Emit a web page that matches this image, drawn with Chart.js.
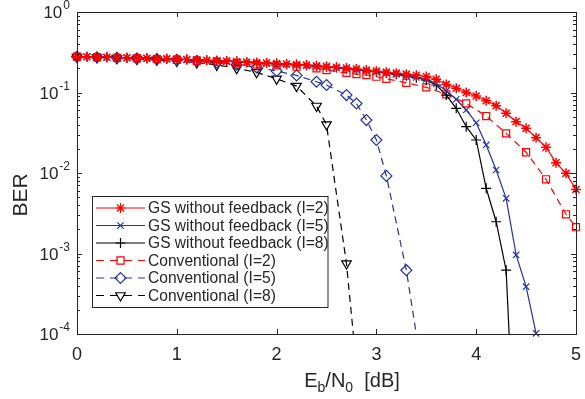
<!DOCTYPE html>
<html lang="en">
<head>
<meta charset="UTF-8">
<title>BER vs Eb/N0</title>
<script src="https://cdn.jsdelivr.net/npm/chart.js"></script>
<style>
  html, body { margin: 0; padding: 0; background: #fff; }
  #wrap { position: relative; width: 585px; height: 399px; }
</style>
</head>
<body>
<div id="wrap"><canvas id="ber-chart" width="585" height="399"></canvas></div>
<script>
// x values (Eb/N0 in dB)
const snrGS2 = [0,0.1,0.2,0.3,0.4,0.5,0.6,0.7,0.8,0.9,1.0,1.1,1.2,1.3,1.4,1.5,1.6,1.7,1.8,1.9,2.0,2.1,2.2,2.3,2.4,2.5,2.6,2.7,2.8,2.9,3.0,3.1,3.2,3.3,3.4,3.5,3.6,3.7,3.8,3.9,4.0,4.1,4.2,4.3,4.4,4.5,4.6,4.7,4.8,4.9,5.0];
const snrGS5 = [0,0.1,0.2,0.3,0.4,0.5,0.6,0.7,0.8,0.9,1.0,1.1,1.2,1.3,1.4,1.5,1.6,1.7,1.8,1.9,2.0,2.1,2.2,2.3,2.4,2.5,2.6,2.7,2.8,2.9,3.0,3.1,3.2,3.3,3.4,3.5,3.6,3.7,3.8,3.9,4.0,4.1,4.2,4.3,4.4,4.5,4.6];
const snrGS8 = [0,0.1,0.2,0.3,0.4,0.5,0.6,0.7,0.8,0.9,1.0,1.1,1.2,1.3,1.4,1.5,1.6,1.7,1.8,1.9,2.0,2.1,2.2,2.3,2.4,2.5,2.6,2.7,2.8,2.9,3.0,3.1,3.2,3.3,3.4,3.5,3.6,3.7,3.8,3.9,4.0,4.1,4.2,4.3,4.4];
const snrConv2 = [0,0.2,0.4,0.6,0.8,1.0,1.2,1.4,1.6,1.8,2.0,2.2,2.4,2.5,2.7,2.8,2.9,3.0,3.1,3.3,3.5,3.7,3.9,4.1,4.3,4.5,4.7,4.9,5.0];
const snrConv5 = [0,0.2,0.4,0.6,0.8,1.0,1.2,1.4,1.6,1.8,2.0,2.2,2.4,2.5,2.7,2.8,2.9,3.0,3.1,3.3,3.5];
const snrConv8 = [0,0.2,0.4,0.6,0.8,1.0,1.2,1.4,1.6,1.8,2.0,2.2,2.4,2.5,2.7,2.8];

// BER values
const berGS2 = [0.280,0.278,0.276,0.274,0.272,0.270,0.268,0.266,0.264,0.262,
  0.260,0.257,0.254,0.251,0.248,0.245,0.242,0.238,0.235,0.232,
  0.229,0.226,0.222,0.219,0.215,0.211,0.206,0.201,0.196,0.190,
  0.184,0.179,0.174,0.169,0.164,0.158,0.146,0.126,0.113,0.100,
  0.0905,0.079,0.0686,0.0552,0.0434,0.0359,0.0275,0.0209,0.0134,0.0099,0.00626];
const berGS5 = [0.279,0.277,0.275,0.273,0.271,0.269,0.267,0.265,0.263,0.261,
  0.258,0.255,0.252,0.249,0.246,0.243,0.240,0.236,0.233,0.230,
  0.227,0.223,0.219,0.215,0.211,0.207,0.202,0.197,0.191,0.185,
  0.180,0.174,0.168,0.161,0.154,0.146,0.128,0.105,0.0824,0.0606,
  0.0421,0.0223,0.0109,0.00485,0.00096,0.000387,0.000102];
const berGS8 = [0.281,0.279,0.277,0.275,0.273,0.271,0.269,0.267,0.265,0.263,
  0.260,0.257,0.254,0.251,0.248,0.245,0.242,0.238,0.235,0.232,
  0.229,0.225,0.221,0.217,0.213,0.209,0.204,0.199,0.193,0.187,
  0.181,0.175,0.168,0.161,0.153,0.142,0.124,0.093,0.0636,0.0376,
  0.0257,0.00646,0.00248,0.00062,0.0000014];
const berConv2 = [0.278,0.274,0.270,0.265,0.260,0.255,0.248,0.240,0.232,0.222,
  0.218,0.209,0.200,0.190,0.175,0.169,0.165,0.157,0.148,0.132,
  0.116,0.095,0.0734,0.051,0.0311,0.0181,0.00835,0.00307,0.00212];
const berConv5 = [0.278,0.274,0.270,0.265,0.260,0.254,0.246,0.236,0.222,0.205,
  0.185,0.163,0.136,0.124,0.093,0.073,0.0455,0.0257,0.0092,0.00062,0.000016];
const berConv8 = [0.276,0.272,0.266,0.260,0.254,0.246,0.236,0.220,0.200,0.178,
  0.148,0.120,0.068,0.040,0.00075,0.00004];

const seriesLabels = ['GS without feedback (I=2)', 'GS without feedback (I=5)', 'GS without feedback (I=8)',
  'Conventional (I=2)', 'Conventional (I=5)', 'Conventional (I=8)'];
const xTicks = [0, 1, 2, 3, 4, 5];
const yTickExps = [0, -1, -2, -3, -4];

const RED = '#ff0000', BLUE = '#25349b', BLACK = '#000000';
const AXIS = '#262626';
const FONT = '"Liberation Sans", Arial, Helvetica, sans-serif';

function pts(xs, ys) {
  return xs.map((x, i) => ({ x: x, y: ys[i] }));
}

function makeSet(label, xs, ys, color, style, radius, dashed, rot, clipBottom, markerWidth) {
  return {
    label: label,
    data: pts(xs, ys),
    borderColor: color,
    backgroundColor: 'rgba(0,0,0,0)',
    borderWidth: 1.2,
    borderDash: dashed ? [7, 5] : [],
    pointStyle: style,
    pointRadius: radius,
    pointHoverRadius: radius,
    pointBorderColor: color,
    pointBackgroundColor: 'rgba(0,0,0,0)',
    pointBorderWidth: markerWidth || 1.2,
    pointRotation: rot || 0,
    tension: 0,
    fill: false,
    clip: { left: 12, top: 12, right: 12, bottom: clipBottom }
  };
}

const datasets = [
  makeSet(seriesLabels[0], snrGS2, berGS2, RED, 'star', 5, false, 0, 0, 1.5),
  makeSet(seriesLabels[1], snrGS5, berGS5, BLUE, 'crossRot', 4.5, false, 0, 6),
  makeSet(seriesLabels[2], snrGS8, berGS8, BLACK, 'cross', 5, false, 0, 0),
  makeSet(seriesLabels[3], snrConv2, berConv2, RED, 'rect', 5, true, 0, 0),
  makeSet(seriesLabels[4], snrConv5, berConv5, BLUE, 'rectRot', 5.5, true, 0, 0),
  makeSet(seriesLabels[5], snrConv8, berConv8, BLACK, 'triangle', 5.5, true, 180, 0)
];

// axes box, inward ticks, tick labels, axis titles and legend
const matlabAxes = {
  id: 'matlabAxes',
  afterDatasetsDraw(chart) {
    const ctx = chart.ctx;
    const a = chart.chartArea;
    const xs = chart.scales.x, ys = chart.scales.y;
    ctx.save();
    ctx.strokeStyle = AXIS;
    ctx.lineWidth = 1;
    ctx.setLineDash([]);
    ctx.strokeRect(Math.round(a.left) + 0.5, Math.round(a.top) + 0.5,
      Math.round(a.right - a.left), Math.round(a.bottom - a.top));

    ctx.beginPath();
    xTicks.forEach(v => {
      const px = Math.round(xs.getPixelForValue(v)) + 0.5;
      ctx.moveTo(px, a.bottom); ctx.lineTo(px, a.bottom - 5);
      ctx.moveTo(px, a.top); ctx.lineTo(px, a.top + 5);
    });
    for (let e = -4; e <= 0; e++) {
      const py = Math.round(ys.getPixelForValue(Math.pow(10, e))) + 0.5;
      ctx.moveTo(a.left, py); ctx.lineTo(a.left + 5, py);
      ctx.moveTo(a.right, py); ctx.lineTo(a.right - 5, py);
      if (e < 0) {
        for (let m = 2; m <= 9; m++) {
          const pm = Math.round(ys.getPixelForValue(m * Math.pow(10, e))) + 0.5;
          ctx.moveTo(a.left, pm); ctx.lineTo(a.left + 3, pm);
          ctx.moveTo(a.right, pm); ctx.lineTo(a.right - 3, pm);
        }
      }
    }
    ctx.stroke();

    // x tick labels
    ctx.fillStyle = AXIS;
    ctx.font = '18px ' + FONT;
    ctx.textAlign = 'center';
    ctx.textBaseline = 'alphabetic';
    xTicks.forEach(v => ctx.fillText(String(v), xs.getPixelForValue(v), 360));

    // y tick labels 10^e
    yTickExps.forEach(e => {
      const py = ys.getPixelForValue(Math.pow(10, e));
      ctx.font = '12px ' + FONT;
      const expTxt = String(e);
      const ew = ctx.measureText(expTxt).width;
      ctx.textAlign = 'right';
      ctx.fillText(expTxt, 70, py - 3);
      ctx.font = '17px ' + FONT;
      ctx.fillText('10', 70 - ew - 1, py + 6);
    });

    // x title: E_b/N_0 [dB]
    const parts = [['E', 20, 0], ['b', 14, 5], ['/N', 20, 0], ['0', 14, 5], ['  [dB]', 20, 0]];
    let total = 0;
    parts.forEach(p => { ctx.font = p[1] + 'px ' + FONT; total += ctx.measureText(p[0]).width; });
    let cx = 352 - total / 2;
    ctx.textAlign = 'left';
    parts.forEach(p => {
      ctx.font = p[1] + 'px ' + FONT;
      ctx.fillText(p[0], cx, 387 + p[2]);
      cx += ctx.measureText(p[0]).width;
    });

    // y title
    ctx.save();
    ctx.translate(27, 195);
    ctx.rotate(-Math.PI / 2);
    ctx.font = '21px ' + FONT;
    ctx.textAlign = 'center';
    ctx.fillText('BER', 0, 0);
    ctx.restore();

    // legend
    const lx = 92.5, ly = 196.5, lw = 235.5, lh = 111;
    ctx.fillStyle = '#ffffff';
    ctx.fillRect(lx, ly, lw, lh);
    ctx.strokeStyle = AXIS;
    ctx.lineWidth = 1;
    ctx.strokeRect(lx, ly, lw, lh);
    chart.data.datasets.forEach((ds, i) => {
      const ry = 208 + i * 17.5;
      ctx.strokeStyle = ds.borderColor;
      ctx.lineWidth = ds.borderWidth;
      ctx.setLineDash(ds.borderDash.length ? [8, 6] : []);
      ctx.beginPath();
      ctx.moveTo(96, ry); ctx.lineTo(145, ry);
      ctx.stroke();
      ctx.setLineDash([]);
      ctx.fillStyle = 'rgba(0,0,0,0)';
      Chart.helpers.drawPoint(ctx, {
        pointStyle: ds.pointStyle, rotation: ds.pointRotation,
        radius: ds.pointRadius, borderWidth: ds.pointBorderWidth
      }, 120.5, ry);
      ctx.fillStyle = AXIS;
      ctx.font = '15.6px ' + FONT;
      ctx.textAlign = 'left';
      ctx.textBaseline = 'middle';
      ctx.fillText(ds.label, 148, ry + 1);
    });
    ctx.restore();
  }
};

new Chart(document.getElementById('ber-chart').getContext('2d'), {
  type: 'line',
  data: { datasets: datasets },
  options: {
    responsive: false,
    animation: false,
    events: [],
    layout: { padding: { left: 77, top: 12, right: 9, bottom: 65 } },
    plugins: { legend: { display: false }, tooltip: { enabled: false } },
    scales: {
      x: { type: 'linear', min: 0, max: 5, display: false },
      y: { type: 'logarithmic', min: 1e-4, max: 1, display: false }
    }
  },
  plugins: [matlabAxes]
});
</script>
</body>
</html>
